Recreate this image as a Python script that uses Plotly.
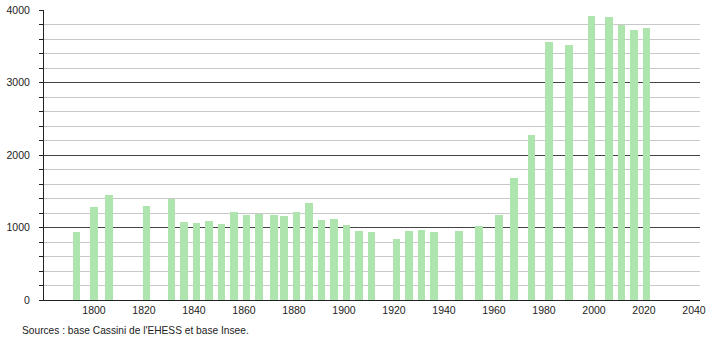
import plotly.graph_objects as go

years = [1793, 1800, 1806, 1821, 1831, 1836, 1841, 1846, 1851, 1856, 1861, 1866,
         1872, 1876, 1881, 1886, 1891, 1896, 1901, 1906, 1911, 1921, 1926, 1931,
         1936, 1946, 1954, 1962, 1968, 1975, 1982, 1990, 1999, 2006, 2011, 2016, 2021]
population = [935, 1280, 1450, 1292, 1390, 1072, 1057, 1085, 1050, 1209, 1168, 1191,
              1168, 1154, 1214, 1338, 1099, 1113, 1030, 947, 938, 837, 947, 961,
              938, 947, 1016, 1172, 1678, 2276, 3559, 3517, 3921, 3903, 3789, 3724, 3747]
x_ticks = [1800, 1820, 1840, 1860, 1880, 1900, 1920, 1940, 1960, 1980, 2000, 2020, 2040]
y_ticks = [0, 1000, 2000, 3000, 4000]
source_text = "Sources : base Cassini de l'EHESS et base Insee."

fig = go.Figure()
fig.add_trace(go.Bar(
    x=years, y=population, width=3,
    marker=dict(color="rgb(174,228,174)", line=dict(width=0)),
    hoverinfo="x+y",
))

font = dict(family="Liberation Sans, Arial, sans-serif", size=10.5, color="#222")

fig.update_layout(
    template="none",
    width=710, height=340, autosize=False,
    margin=dict(l=44, r=10, t=10, b=40, pad=0, autoexpand=False),
    paper_bgcolor="white", plot_bgcolor="white",
    showlegend=False, bargap=0,
    font=font,
    xaxis=dict(
        range=[1780, 2042.4], tickvals=x_ticks, ticktext=[str(v) for v in x_ticks],
        showgrid=False, zeroline=False, ticks="", showline=True, automargin=False,
        linecolor="#222", linewidth=1, tickfont=font,
    ),
    yaxis=dict(
        range=[0, 4000], tickvals=y_ticks, ticktext=[str(v) for v in y_ticks],
        showgrid=True, gridcolor="#444", gridwidth=1, zeroline=False, automargin=False,
        ticks="outside", ticklen=4, tickcolor="#222", tickwidth=1,
        showline=True, linecolor="#222", linewidth=1,
        ticklabelstandoff=7, tickfont=font,
        minor=dict(dtick=200, tick0=0, ticks="outside", ticklen=4,
                   tickcolor="#222", showgrid=True, gridcolor="#c8c8c8", gridwidth=1),
        layer="below traces",
    ),
    annotations=[dict(
        text=source_text, xref="paper", yref="paper",
        x=(20 - 44) / 656, y=-30 / 290, xanchor="left", yanchor="middle",
        showarrow=False, font=dict(family="Liberation Sans, Arial, sans-serif", size=10.2, color="#222"),
    )],
)

fig.write_html("out.html")
